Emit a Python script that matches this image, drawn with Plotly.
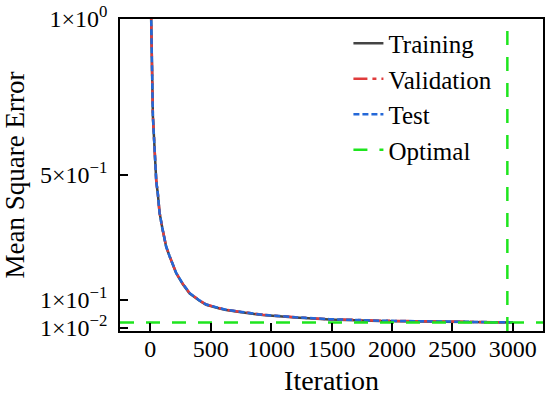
import plotly.graph_objects as go

iterations = [0, 8, 22, 36, 50, 63, 77, 100, 132, 160, 215, 270, 325, 408, 463, 574, 629, 739, 932, 1200, 1484, 1898, 2200, 2502, 2800, 3000]
mse_training = [1.40, 1.00, 0.69, 0.57, 0.48, 0.44, 0.38, 0.33, 0.27, 0.24, 0.185, 0.150, 0.121, 0.097, 0.084, 0.072, 0.067, 0.061, 0.051, 0.043, 0.037, 0.032, 0.030, 0.028, 0.0275, 0.027]
mse_validation = [1.40, 1.00, 0.69, 0.57, 0.48, 0.44, 0.38, 0.33, 0.27, 0.24, 0.186, 0.151, 0.122, 0.098, 0.085, 0.073, 0.068, 0.062, 0.052, 0.044, 0.038, 0.033, 0.031, 0.029, 0.028, 0.0275]
mse_test = [1.40, 1.00, 0.69, 0.57, 0.48, 0.44, 0.38, 0.33, 0.27, 0.24, 0.186, 0.151, 0.122, 0.098, 0.085, 0.073, 0.068, 0.062, 0.052, 0.044, 0.038, 0.033, 0.031, 0.029, 0.028, 0.0275]
optimal_iteration = 2955
optimal_mse = 0.027
x_range = [-250, 3250]
y_range = [0, 1]
y_tickvals = [0.01, 0.1, 0.5, 1.0]
y_ticktext = ["1×10<sup>−2</sup>", "1×10<sup>−1</sup>", "5×10<sup>−1</sup>", "1×10<sup>0</sup>"]
x_tickvals = [0, 500, 1000, 1500, 2000, 2500, 3000]

FONT = "Liberation Serif, Times New Roman, serif"
GREEN = "#1ee51e"

fig = go.Figure()
fig.add_trace(go.Scatter(x=iterations, y=mse_training, mode="lines", name="Training",
                         line=dict(color="#444444", width=2.5, dash="solid")))
fig.add_trace(go.Scatter(x=iterations, y=mse_validation, mode="lines", name="Validation",
                         line=dict(color="#e03c3c", width=2.5, dash="14px,5px,4px,5px")))
fig.add_trace(go.Scatter(x=iterations, y=mse_test, mode="lines", name="Test",
                         line=dict(color="#2468d8", width=2.5, dash="6px,3px")))
fig.add_trace(go.Scatter(x=[x_range[0], x_range[1], None, optimal_iteration, optimal_iteration],
                         y=[optimal_mse, optimal_mse, None, y_range[0], y_range[1]],
                         mode="lines", name="Optimal", connectgaps=False,
                         line=dict(color=GREEN, width=2.5, dash="14px,12px")))

fig.update_layout(
    width=550, height=396,
    margin=dict(l=120, r=7, t=19, b=65, autoexpand=False),
    paper_bgcolor="white", plot_bgcolor="white",
    font=dict(family=FONT, size=24, color="black"),
    showlegend=True,
    legend=dict(x=0.54, y=0.995, xanchor="left", yanchor="top",
                bgcolor="rgba(0,0,0,0)", font=dict(size=25),
                tracegroupgap=0, itemwidth=30),
    xaxis=dict(range=x_range, tickvals=x_tickvals, ticks="inside", ticklen=8,
               tickwidth=1.5, tickcolor="black", showline=True, linecolor="black",
               linewidth=1.5, mirror=True, showgrid=False, zeroline=False,
               automargin=False, ticklabelstandoff=-5, ticklabeloverflow="allow",
               tickfont=dict(size=24),
               title=dict(text="Iteration", font=dict(size=28), standoff=13)),
    yaxis=dict(range=y_range, tickvals=y_tickvals, ticktext=y_ticktext, ticks="inside",
               ticklen=8, tickwidth=1.5, tickcolor="black", showline=True,
               linecolor="black", linewidth=1.5, mirror=True, showgrid=False,
               zeroline=False, automargin=False, ticklabelstandoff=6,
               ticklabeloverflow="allow",
               tickfont=dict(size=24),
               title=dict(text="Mean Square Error", font=dict(size=27), standoff=8)),
)

# Remove the browser's default 8px body margin so the 550x396 figure fills the window.
fig.write_html("out.html", config={"displayModeBar": False},
               post_script="document.body.style.margin='0';")
